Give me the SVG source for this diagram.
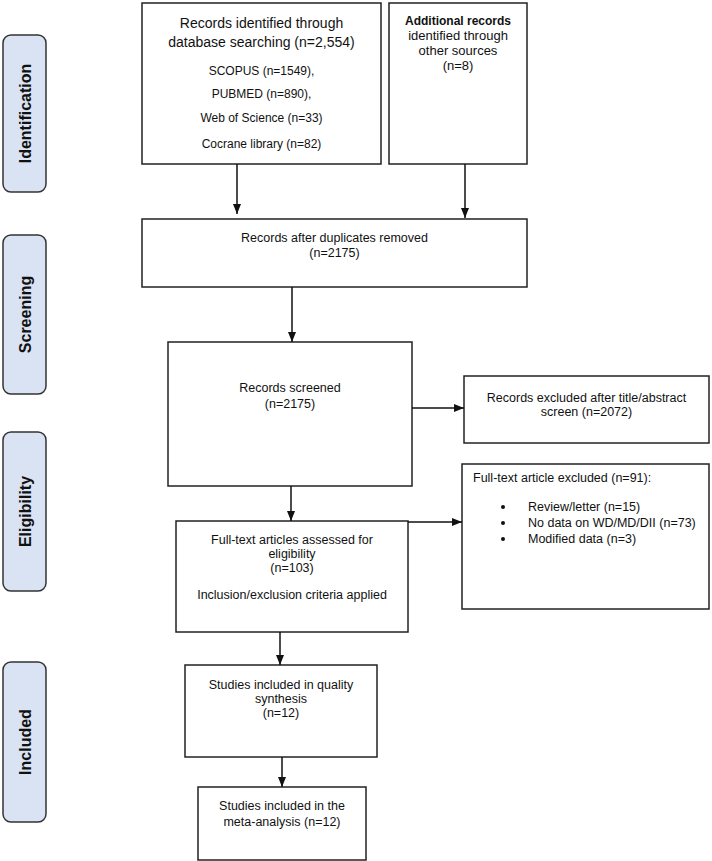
<svg xmlns="http://www.w3.org/2000/svg" width="712" height="861" viewBox="0 0 712 861">
<style>
.box{fill:#fff;stroke:#222;stroke-width:1.5}
.side{fill:#dae3f3;stroke:#333;stroke-width:1.5}
.t{font-family:"Liberation Sans",Arial,sans-serif;font-size:12.5px;fill:#111;text-anchor:middle}
.t12{font-size:12px}
.t13{font-size:13px}
.t14{font-size:14px}
.l{text-anchor:start}
.b{font-weight:bold}
.st{font-family:"Liberation Sans",Arial,sans-serif;font-size:16px;font-weight:bold;fill:#111;text-anchor:middle}
.c{stroke:#111;stroke-width:1.5;fill:none;marker-end:url(#ah)}
</style>
<defs>
<marker id="ah" markerUnits="userSpaceOnUse" markerWidth="10" markerHeight="10" viewBox="0 0 10 10" refX="10" refY="5" orient="auto">
<path d="M0,1 L10,5 L0,9 Z" fill="#111"/>
</marker>
</defs>
<rect width="712" height="861" fill="#fff"/>
<g id="phase-identification"><rect class="side" x="3" y="35" width="43" height="157" rx="8"/><text class="st" transform="translate(31,113.5) rotate(-90)">Identification</text></g>
<g id="phase-screening"><rect class="side" x="3" y="235" width="43" height="159" rx="8"/><text class="st" transform="translate(31,314.5) rotate(-90)">Screening</text></g>
<g id="phase-eligibility"><rect class="side" x="3" y="432" width="43" height="159" rx="8"/><text class="st" transform="translate(31,511.5) rotate(-90)">Eligibility</text></g>
<g id="phase-included"><rect class="side" x="3" y="662" width="43" height="160" rx="8"/><text class="st" transform="translate(31,742) rotate(-90)">Included</text></g>

<g id="identified">
<rect class="box" x="142" y="3" width="239" height="161"/>
<text class="t t14" x="261.5" y="28">Records identified through</text>
<text class="t t14" x="261.5" y="47">database searching (n=2,554)</text>
<text class="t t12" x="261.5" y="75">SCOPUS (n=1549),</text>
<text class="t t12" x="261.5" y="98">PUBMED (n=890),</text>
<text class="t t12" x="261.5" y="122">Web of Science (n=33)</text>
<text class="t t12" x="261.5" y="148">Cocrane library (n=82)</text>
</g>
<g id="additional">
<rect class="box" x="389" y="3" width="138" height="161"/>
<text class="t t12 b" x="458" y="25">Additional records</text>
<text class="t t13" x="458" y="40">identified through</text>
<text class="t t13" x="458" y="55">other sources</text>
<text class="t t13" x="458" y="70">(n=8)</text>
</g>
<g id="deduplicated">
<rect class="box" x="142" y="219" width="385" height="68"/>
<text class="t" x="334.5" y="242">Records after duplicates removed</text>
<text class="t" x="334.5" y="257">(n=2175)</text>
</g>
<g id="screened">
<rect class="box" x="168" y="342" width="244" height="144"/>
<text class="t" x="290" y="392">Records screened</text>
<text class="t" x="290" y="408">(n=2175)</text>
</g>
<g id="excluded-screen">
<rect class="box" x="464" y="376" width="245" height="67"/>
<text class="t" x="586.5" y="402">Records excluded after title/abstract</text>
<text class="t" x="586.5" y="416">screen (n=2072)</text>
</g>
<g id="fulltext">
<rect class="box" x="176" y="521" width="232" height="111"/>
<text class="t" x="292" y="544">Full-text articles assessed for</text>
<text class="t" x="292" y="558">eligibility</text>
<text class="t" x="292" y="572">(n=103)</text>
<text class="t" x="292" y="599">Inclusion/exclusion criteria applied</text>
</g>
<g id="excluded-fulltext">
<rect class="box" x="462" y="464" width="247" height="145"/>
<text class="t l" x="473" y="482">Full-text article excluded (n=91):</text>
<circle cx="503" cy="507" r="2" fill="#111"/>
<circle cx="503" cy="523" r="2" fill="#111"/>
<circle cx="503" cy="539" r="2" fill="#111"/>
<text class="t l" x="528" y="511">Review/letter (n=15)</text>
<text class="t l" x="528" y="527">No data on WD/MD/DII (n=73)</text>
<text class="t l" x="528" y="543">Modified data (n=3)</text>
</g>
<g id="quality">
<rect class="box" x="185" y="665" width="192" height="92"/>
<text class="t" x="281" y="689">Studies included in quality</text>
<text class="t" x="281" y="703">synthesis</text>
<text class="t" x="281" y="717">(n=12)</text>
</g>
<g id="meta">
<rect class="box" x="198" y="787" width="168" height="73"/>
<text class="t" x="282" y="810">Studies included in the</text>
<text class="t" x="282" y="826">meta-analysis (n=12)</text>
</g>

<g id="connectors">
<line class="c" x1="237" y1="164" x2="237" y2="214"/>
<line class="c" x1="465" y1="164" x2="465" y2="218"/>
<line class="c" x1="292" y1="287" x2="292" y2="342"/>
<line class="c" x1="412" y1="408" x2="464" y2="408"/>
<line class="c" x1="291" y1="486" x2="291" y2="521"/>
<line class="c" x1="408" y1="522" x2="462" y2="522"/>
<line class="c" x1="280" y1="632" x2="280" y2="665"/>
<line class="c" x1="282" y1="757" x2="282" y2="787"/>
</g>
</svg>
